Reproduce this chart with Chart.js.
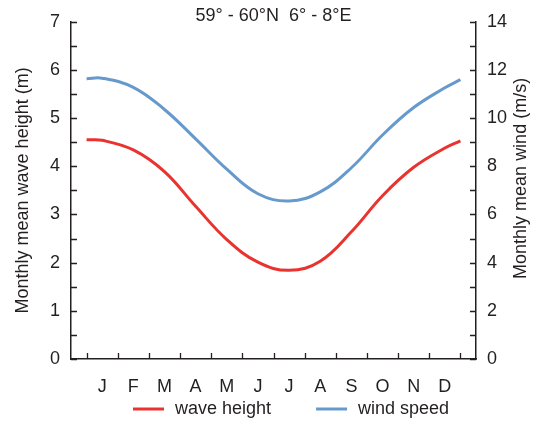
<!DOCTYPE html>
<html><head><meta charset="utf-8">
<script src="https://cdn.jsdelivr.net/npm/chart.js@4"></script>
<style>html,body{margin:0;padding:0;background:#fff;}#wrap{width:533px;height:423px;position:relative;}</style>
</head><body><div id="wrap"><canvas id="c" width="533" height="423"></canvas></div>
<script>
// ---- data ----
const monthLabels = ['J','F','M','A','M','J','J','A','S','O','N','D'];
const monthPos   = [0.5, 1, 2, 3, 4, 5, 6, 7, 8, 9, 10, 11, 12, 12.5];
const waveHeight = [4.55, 4.54, 4.34, 3.89, 3.17, 2.48, 2.01, 1.84, 2.03, 2.64, 3.39, 3.98, 4.38, 4.53];
const windSpeed  = [11.64, 11.66, 11.28, 10.36, 9.14, 7.88, 6.86, 6.56, 6.94, 7.94, 9.30, 10.44, 11.26, 11.60];
const waveTickLabels = [0, 1, 2, 3, 4, 5, 6, 7];
const windTickLabels = [0, 2, 4, 6, 8, 10, 12, 14];
const titleText = '59° - 60°N  6° - 8°E';
const leftTitle = 'Monthly mean wave height (m)';
const rightTitle = 'Monthly mean wind (m/s)';
const seriesNames = ['wave height', 'wind speed'];

// ---- style ----
const FONT = "'Liberation Sans', Arial, Helvetica, sans-serif";
const TXT = '#231f20';
const AXIS = '#231f20';
const RED = '#e8332e';
const BLUE = '#6699cc';

const toXY = (ys) => monthPos.map((x, i) => ({x, y: ys[i]}));

const decor = {
  id: 'decor',
  afterDraw(chart) {
    const ctx = chart.ctx, a = chart.chartArea;
    const x = chart.scales.x, yl = chart.scales.y, yr = chart.scales.y2;
    ctx.save();
    ctx.strokeStyle = AXIS; ctx.lineWidth = 1.3;
    ctx.beginPath();
    for (let v = 0; v <= 7.001; v += 0.5) {
      const p = Math.round(yl.getPixelForValue(v)) + 0.5;
      ctx.moveTo(a.left, p); ctx.lineTo(a.left + 6, p);
    }
    for (let v = 0; v <= 14.001; v += 1) {
      const p = Math.round(yr.getPixelForValue(v)) + 0.5;
      ctx.moveTo(a.right, p); ctx.lineTo(a.right - 6, p);
    }
    for (let v = 0.5; v <= 12.501; v += 1) {
      const p = Math.round(x.getPixelForValue(v)) + 0.5;
      ctx.moveTo(p, a.bottom); ctx.lineTo(p, a.bottom - 6);
    }
    ctx.stroke();
    // title
    ctx.fillStyle = TXT;
    ctx.font = '18px ' + FONT;
    ctx.textAlign = 'center'; ctx.textBaseline = 'middle';
    ctx.fillText(titleText, (a.left + a.right) / 2, 16);
    // right axis title (reads bottom to top)
    ctx.save();
    ctx.translate(521, (a.top + a.bottom) / 2 - 12);
    ctx.rotate(-Math.PI / 2);
    ctx.fillText(rightTitle, 0, 0);
    ctx.restore();
    // legend
    const ly = 409;
    let lx = 133;
    chart.data.datasets.forEach((ds, i) => {
      ctx.strokeStyle = ds.borderColor; ctx.lineWidth = 3;
      ctx.beginPath(); ctx.moveTo(lx, ly); ctx.lineTo(lx + 31, ly); ctx.stroke();
      ctx.fillStyle = TXT; ctx.textAlign = 'left';
      ctx.fillText(ds.label, lx + 42, ly);
      lx += 42 + ctx.measureText(ds.label).width + 45;
    });
    ctx.restore();
  }
};

new Chart(document.getElementById('c'), {
  type: 'line',
  data: {
    datasets: [
      {label: seriesNames[0], data: toXY(waveHeight), yAxisID: 'y', borderColor: RED, borderWidth: 3, pointRadius: 0, tension: 0.4, fill: false},
      {label: seriesNames[1], data: toXY(windSpeed), yAxisID: 'y2', borderColor: BLUE, borderWidth: 3, pointRadius: 0, tension: 0.4, fill: false}
    ]
  },
  options: {
    responsive: false,
    animation: false,
    layout: {padding: {top: 12, left: 0, right: 0, bottom: 0}},
    plugins: {legend: {display: false}, title: {display: false}, tooltip: {enabled: false}},
    scales: {
      x: {
        type: 'linear', min: 0, max: 13,
        afterBuildTicks: (s) => { s.ticks = monthLabels.map((_, i) => ({value: i + 1})); },
        afterFit: (s) => { s.height = 64; },
        ticks: {callback: (v) => monthLabels[v - 1] || '', color: TXT, font: {family: FONT, size: 18}, padding: 17, maxRotation: 0, autoSkip: false},
        grid: {display: false, drawTicks: false},
        border: {display: true, color: AXIS, width: 1.5}
      },
      y: {
        type: 'linear', position: 'left', min: 0, max: 7,
        afterBuildTicks: (s) => { s.ticks = waveTickLabels.map(v => ({value: v})); },
        afterFit: (s) => { s.width = 71; },
        ticks: {color: TXT, font: {family: FONT, size: 18}, padding: 11},
        grid: {display: false, drawTicks: false},
        border: {display: true, color: AXIS, width: 1.5},
        title: {display: true, text: leftTitle, color: TXT, font: {family: FONT, size: 18}, padding: {top: 12, bottom: 0}}
      },
      y2: {
        type: 'linear', position: 'right', min: 0, max: 14,
        afterBuildTicks: (s) => { s.ticks = windTickLabels.map(v => ({value: v})); },
        afterFit: (s) => { s.width = 57; },
        ticks: {color: TXT, font: {family: FONT, size: 18}, padding: 11},
        grid: {display: false, drawTicks: false},
        border: {display: true, color: AXIS, width: 1.5}
      }
    }
  },
  plugins: [decor]
});
</script>
</body></html>
